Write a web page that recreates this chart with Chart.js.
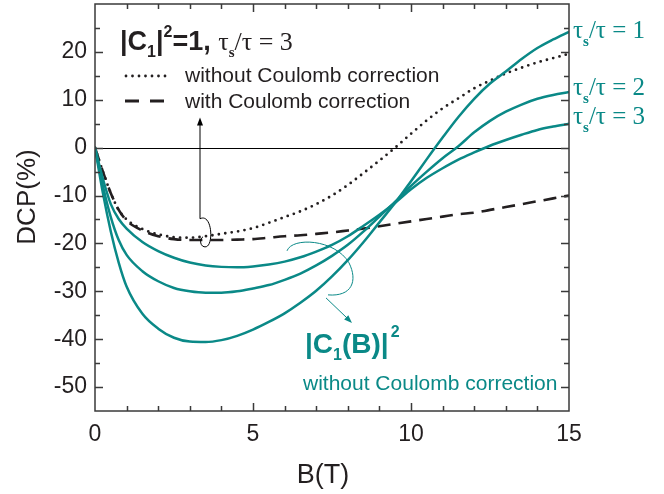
<!DOCTYPE html>
<html>
<head>
<meta charset="utf-8">
<title>DCP vs B</title>
<script src="https://cdn.jsdelivr.net/npm/chart.js@4.4.1/dist/chart.umd.min.js"></script>
<style>
  html, body { margin: 0; padding: 0; background: #fff; }
  #wrap { width: 664px; height: 494px; }
</style>
</head>
<body>
<div id="wrap"><canvas id="dcpChart" width="664" height="494"></canvas></div>
<script>
// magnetic field B (T), shared by every curve
const fieldB = [0, 0.25, 0.5, 0.75, 1, 1.5, 2, 2.5, 3, 3.5, 4, 4.5, 5, 5.5, 6, 6.5, 7, 7.5,
  8, 8.5, 9, 9.5, 10, 10.5, 11, 11.5, 12, 12.5, 13, 13.5, 14, 14.5, 15];

// |C1(B)|^2, without Coulomb correction, one curve per tau_s/tau
const dcpRatio1 = [0, -9.5, -17.5, -24, -29, -34.7, -37.8, -39.7, -40.5, -40.6, -40.2, -39.3, -38,
  -36.4, -34.6, -32.4, -29.9, -26.9, -23.5, -19.7, -15.6, -11.5, -7.0, -2.4, 2.1, 6.4, 10.2,
  13.4, 15.9, 18.5, 20.8, 22.6, 24.2];
const dcpRatio2 = [0, -8, -14.5, -19.3, -22.4, -25.8, -27.9, -29.3, -30.0, -30.3, -30.3, -30.0,
  -29.4, -28.7, -27.6, -26.3, -24.6, -22.6, -20.3, -17.5, -14.4, -11.3, -8.0, -5.0, -2.2, 0.3,
  3.2, 5.6, 7.5, 9.0, 10.2, 11.0, 11.6];
const dcpRatio3 = [0, -6.5, -11.8, -14.9, -16.9, -19.7, -21.6, -23.0, -24.0, -24.6, -24.9, -25.0,
  -24.8, -24.4, -23.8, -22.9, -21.7, -20.3, -18.5, -16.3, -14.0, -11.5, -8.7, -6.3, -4.3, -2.5,
  -1.0, 0.4, 1.6, 2.7, 3.7, 4.4, 5.0];

// |C1|^2 = 1, tau_s/tau = 3
const dcpNoCoulomb = [0, -5, -9.5, -13, -15, -17, -18.1, -18.7, -18.8, -18.5, -18.0, -17.5, -16.8,
  -15.7, -14.5, -13.3, -11.8, -10.0, -7.8, -5.3, -2.7, 0.0, 2.9, 5.7, 8.2, 10.3, 12.4, 14.0,
  15.5, 16.7, 17.8, 18.7, 19.6];
const dcpCoulomb = [0, -5, -9.5, -13, -15.2, -17.3, -18.5, -19.1, -19.3, -19.3, -19.3, -19.2,
  -19.1, -18.8, -18.5, -18.3, -18.0, -17.7, -17.3, -16.9, -16.4, -15.9, -15.4, -14.9, -14.4,
  -13.9, -13.6, -13.0, -12.4, -11.8, -11.2, -10.6, -10.0];

const xTickLabels = [0, 5, 10, 15];
const yTickLabels = [-50, -40, -30, -20, -10, 0, 10, 20];

const teal = '#0a8987';
const ink = '#231f20';
const sans = "'Liberation Sans', Arial, Helvetica, sans-serif";
const serif = "'Liberation Serif', 'Times New Roman', serif";

const toPoints = (ys) => ys.map((v, i) => ({ x: fieldB[i], y: v }));

// draw a row of text pieces with their own font / vertical shift
function drawRuns(ctx, x, base, runs, color) {
  ctx.fillStyle = color;
  ctx.textAlign = 'left';
  ctx.textBaseline = 'alphabetic';
  runs.forEach(r => {
    ctx.font = r.f;
    ctx.fillText(r.t, x, base + (r.dy || 0));
    x += ctx.measureText(r.t).width + (r.gap || 0);
  });
}

function arrowHead(ctx, x0, y0, x1, y1, len, half) {
  const ang = Math.atan2(y1 - y0, x1 - x0);
  ctx.beginPath();
  ctx.moveTo(x1, y1);
  ctx.lineTo(x1 - len * Math.cos(ang) + half * Math.sin(ang), y1 - len * Math.sin(ang) - half * Math.cos(ang));
  ctx.lineTo(x1 - len * Math.cos(ang) - half * Math.sin(ang), y1 - len * Math.sin(ang) + half * Math.cos(ang));
  ctx.closePath();
  ctx.fill();
}

const decorPlugin = {
  id: 'decor',
  beforeDatasetsDraw(chart) {
    const { ctx, chartArea: a, scales: { y } } = chart;
    ctx.save();
    ctx.strokeStyle = '#000';
    ctx.lineWidth = 1;
    const y0 = Math.round(y.getPixelForValue(0)) + 0.5;
    ctx.beginPath();
    ctx.moveTo(a.left, y0);
    ctx.lineTo(a.right, y0);
    ctx.stroke();
    ctx.restore();
  },
  afterDraw(chart) {
    const { ctx, chartArea: a, scales: { x, y } } = chart;
    const p = (b, v) => [x.getPixelForValue(b), y.getPixelForValue(v)];
    ctx.save();

    // frame and inward ticks
    ctx.strokeStyle = '#3a3a3a';
    ctx.lineWidth = 1.5;
    ctx.strokeRect(a.left, a.top, a.right - a.left, a.bottom - a.top);
    ctx.beginPath();
    for (let b = 1; b < 15; b++) {
      const px = Math.round(x.getPixelForValue(b)) + 0.5;
      const len = b % 5 === 0 ? 8 : 5;
      ctx.moveTo(px, a.bottom); ctx.lineTo(px, a.bottom - len);
      ctx.moveTo(px, a.top); ctx.lineTo(px, a.top + len);
    }
    for (let v = -50; v < 30; v += 5) {
      const py = Math.round(y.getPixelForValue(v)) + 0.5;
      const len = v % 10 === 0 ? 8 : 5;
      ctx.moveTo(a.left, py); ctx.lineTo(a.left + len, py);
      ctx.moveTo(a.right, py); ctx.lineTo(a.right - len, py);
    }
    ctx.stroke();

    // axis titles
    ctx.fillStyle = ink;
    ctx.font = '26px ' + sans;
    ctx.textAlign = 'center';
    ctx.textBaseline = 'middle';
    ctx.save();
    ctx.translate(28, 197);
    ctx.rotate(-Math.PI / 2);
    ctx.fillText('DCP(%)', 0, 0);
    ctx.restore();
    ctx.textBaseline = 'alphabetic';
    ctx.font = '27px ' + sans;
    ctx.fillText('B(T)', 323, 483);

    // header and legend
    drawRuns(ctx, 120, 50, [
      { t: '|C', f: 'bold 27px ' + sans },
      { t: '1', f: 'bold 16px ' + sans, dy: 7 },
      { t: '|', f: 'bold 27px ' + sans },
      { t: '2', f: 'bold 16px ' + sans, dy: -13 },
      { t: '=1, ', f: 'bold 27px ' + sans },
      { t: 'τ', f: '26px ' + serif },
      { t: 's', f: 'bold 15px ' + serif, dy: 7 },
      { t: '/τ = 3', f: '26px ' + serif }
    ], ink);

    ctx.strokeStyle = ink;
    ctx.lineWidth = 2.8;
    ctx.lineCap = 'round';
    ctx.setLineDash([0, 6.5]);
    ctx.beginPath(); ctx.moveTo(126, 76); ctx.lineTo(170, 76); ctx.stroke();
    ctx.lineCap = 'butt';
    ctx.setLineDash([14, 11]);
    ctx.beginPath(); ctx.moveTo(125, 101); ctx.lineTo(165, 101); ctx.stroke();
    ctx.setLineDash([]);
    ctx.font = '21px ' + sans;
    ctx.fillStyle = ink;
    ctx.textAlign = 'left';
    ctx.fillText('without Coulomb correction', 185, 82);
    ctx.fillText('with Coulomb correction', 185, 108);

    // right side curve labels
    [['1', 38], ['2', 95], ['3', 124]].forEach(([r, base]) => {
      drawRuns(ctx, 573, base, [
        { t: 'τ', f: '25px ' + serif },
        { t: 's', f: 'bold 15px ' + serif, dy: 8 },
        { t: '/τ = ' + r, f: '25px ' + serif }
      ], teal);
    });

    // teal annotation
    drawRuns(ctx, 305, 353, [
      { t: '|C', f: 'bold 28px ' + sans },
      { t: '1', f: 'bold 16px ' + sans, dy: 7 },
      { t: '(B)|', f: 'bold 28px ' + sans, gap: 2 },
      { t: '2', f: 'bold 16px ' + sans, dy: -16 }
    ], teal);
    ctx.font = '21px ' + sans;
    ctx.fillStyle = teal;
    ctx.fillText('without Coulomb correction', 303, 390);

    // black arrow with loop
    ctx.strokeStyle = '#000';
    ctx.fillStyle = '#000';
    ctx.lineWidth = 1;
    const tip = p(3.323, 6.28), foot = p(3.323, -14.85);
    ctx.beginPath();
    ctx.moveTo(foot[0], foot[1]);
    ctx.lineTo(tip[0], tip[1] + 6);
    ctx.stroke();
    arrowHead(ctx, foot[0], foot[1], tip[0], tip[1], 8, 3);
    ctx.beginPath();
    ctx.moveTo(...foot);
    ctx.bezierCurveTo(...p(3.703, -13.6), ...p(3.766, -20.29), ...p(3.513, -20.71));
    ctx.bezierCurveTo(...p(3.323, -20.92), ...p(3.291, -19.04), ...p(3.418, -18.62));
    ctx.stroke();

    // teal curl with arrow
    ctx.strokeStyle = teal;
    ctx.fillStyle = teal;
    ctx.beginPath();
    ctx.moveTo(...p(6.076, -21.55));
    ctx.bezierCurveTo(...p(6.234, -18.62), ...p(7.595, -19.04), ...p(8.038, -24.06));
    ctx.bezierCurveTo(...p(8.323, -27.82), ...p(8.133, -31.17), ...p(7.373, -30.75));
    ctx.stroke();
    const s0 = p(7.31, -31.38), s1 = p(8.133, -36.61);
    ctx.beginPath();
    ctx.moveTo(...s0);
    ctx.lineTo(s1[0] - 4, s1[1] - 4);
    ctx.stroke();
    arrowHead(ctx, s0[0], s0[1], s1[0], s1[1], 8, 3);

    ctx.restore();
  }
};

const ctx = document.getElementById('dcpChart').getContext('2d');
const tealLine = (data) => ({
  data: toPoints(data),
  borderColor: teal,
  borderWidth: 2.5,
  pointRadius: 0,
  cubicInterpolationMode: 'monotone',
  fill: false
});

new Chart(ctx, {
  type: 'line',
  data: {
    datasets: [
      tealLine(dcpRatio1),
      tealLine(dcpRatio2),
      tealLine(dcpRatio3),
      {
        data: toPoints(dcpNoCoulomb),
        borderColor: ink,
        borderWidth: 2.8,
        borderDash: [0, 6.5],
        borderCapStyle: 'round',
        pointRadius: 0,
        cubicInterpolationMode: 'monotone'
      },
      {
        data: toPoints(dcpCoulomb),
        borderColor: ink,
        borderWidth: 2.6,
        borderDash: [13, 8],
        pointRadius: 0,
        cubicInterpolationMode: 'monotone'
      }
    ]
  },
  options: {
    responsive: false,
    animation: false,
    layout: { padding: { top: 4, right: 95, left: 0, bottom: 0 } },
    plugins: { legend: { display: false }, tooltip: { enabled: false } },
    scales: {
      x: {
        type: 'linear',
        min: 0,
        max: 15,
        grid: { display: false, drawTicks: false },
        border: { display: false },
        afterBuildTicks: (s) => { s.ticks = xTickLabels.map(v => ({ value: v })); },
        afterFit: (s) => { s.height = 83; s.paddingLeft = 0; s.paddingRight = 0; },
        ticks: { padding: 10, color: ink, font: { size: 23, family: sans }, maxRotation: 0 }
      },
      y: {
        min: -55,
        max: 30,
        grid: { display: false, drawTicks: false },
        border: { display: false },
        afterBuildTicks: (s) => { s.ticks = yTickLabels.map(v => ({ value: v })); },
        afterFit: (s) => { s.width = 95; s.paddingTop = 0; s.paddingBottom = 0; },
        ticks: { padding: 8, color: ink, font: { size: 23, family: sans } }
      }
    }
  },
  plugins: [decorPlugin]
});
</script>
</body>
</html>
